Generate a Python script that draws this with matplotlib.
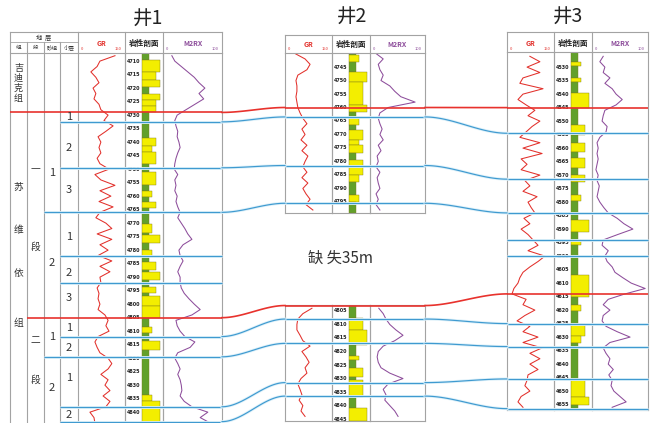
import numpy as np
import matplotlib.pyplot as plt

plt.rcParams['font.family'] = ['Noto Sans CJK SC', 'DejaVu Sans']

# ---------------- 井1 ----------------
dep1 = np.arange(4708, 4845, 2)
gr1 = [118, 70, 61, 41, 57, 67, 48, 57, 51, 67,
       73, 96, 83, 112, 89, 64, 73, 67, 73, 61,
       70, 99, 54, 73, 118, 70, 105, 67, 112, 70,
       57, 89, 108, 61, 108, 70, 96, 64, 108, 70,
       102, 70, 73, 61, 67, 64, 70, 64, 86, 96,
       89, 99, 64, 54, 61, 70, 96, 108, 96, 73,
       96, 86, 102, 80, 102, 89, 38, 51, 54]
rx1 = [15, 20, 31, 42, 53, 61, 71, 61, 69, 54,
       39, 24, 20, 22, 25, 24, 27, 29, 25, 22,
       20, 19, 25, 20, 22, 20, 24, 22, 25, 29,
       25, 31, 37, 42, 49, 34, 27, 29, 34, 29,
       25, 29, 29, 31, 36, 44, 53, 63, 49, 22,
       24, 29, 37, 54, 46, 25, 20, 25, 29, 25,
       29, 31, 32, 29, 36, 49, 76, 63, 80]
# 岩性: 0 泥岩, 1-3 砂岩(粒级由细到粗)
lith1_top = [4707, 4709.5, 4714, 4717, 4719.5, 4722, 4724.5, 4726.5, 4729, 4738.5,
             4741.5, 4743.5, 4748, 4751, 4756, 4758, 4760.5, 4762, 4764.5, 4770.5,
             4773.5, 4774.5, 4777.5, 4780, 4782, 4784.5, 4787.5, 4788, 4791, 4793.5,
             4796, 4797, 4800.5, 4805, 4808.5, 4810.5, 4813.5, 4817, 4833.5, 4836]
lith1_code = [0, 3, 2, 3, 0, 3, 2, 2, 0, 2,
              1, 2, 0, 2, 0, 1, 0, 2, 0, 1,
              0, 3, 0, 1, 0, 2, 0, 3, 0, 2,
              0, 3, 3, 0, 1, 0, 3, 0, 1, 3]
ticks1 = list(range(4710, 4845, 5))

# ---------------- 井2 ----------------
dep2a = np.arange(4740, 4799, 2)
gr2a = [32, 64, 80, 70, 41, 35, 38, 38, 35, 38,
        41, 48, 57, 70, 54, 64, 51, 70, 54, 73,
        64, 57, 70, 54, 73, 57, 67, 80, 67, 89]
rx2a = [11, 24, 15, 18, 24, 20, 36, 45, 56, 82,
        33, 18, 15, 18, 22, 18, 24, 15, 20, 13,
        15, 11, 18, 13, 15, 18, 11, 15, 11, 18]
lith2a_top = [4739.8, 4740.5, 4743, 4747, 4750.5, 4759, 4761.5, 4764, 4766.5, 4768.5,
              4772, 4774, 4777, 4779.5, 4785, 4787.5, 4792.5, 4795]
lith2a_code = [0, 1, 0, 3, 2, 3, 0, 1, 0, 2, 1, 2, 0, 2, 1, 0, 1, 0]
ticks2a = list(range(4745, 4799, 5))

dep2b = np.arange(4804, 4845, 2)
gr2b = [86, 57, 41, 38, 38, 48, 57, 80, 54, 67,
        77, 64, 70, 51, 41, 48, 54, 45, 57, 51, 64]
rx2b = [16, 24, 29, 36, 47, 60, 45, 24, 15, 13,
        15, 20, 36, 60, 33, 24, 29, 27, 36, 45, 51]
lith2b_top = [4802.8, 4807.5, 4812, 4817.5, 4821.5, 4823, 4826, 4829.5, 4830.5, 4837, 4841]
lith2b_code = [0, 2, 3, 0, 1, 0, 2, 0, 2, 0, 3]
ticks2b = list(range(4805, 4846, 5))

# ---------------- 井3 ----------------
dep3 = np.arange(4526, 4657, 2)
gr3 = [73, 105, 64, 105, 51, 41, 115, 51, 35, 61,
       89, 67, 105, 80, 61, 41, 105, 51, 112, 45,
       64, 45, 105, 57, 73, 51, 96, 67, 77, 89,
       54, 73, 45, 67, 83, 99, 67, 121, 99, 73,
       51, 41, 35, 22, 16, 61, 51, 89, 57, 32,
       73, 51, 99, 51, 112, 73, 105, 73, 99, 67,
       64, 57, 73, 45, 35, 51]
rx3 = [20, 14, 23, 20, 32, 23, 36, 43, 54, 43,
       23, 20, 18, 27, 25, 14, 9, 11, 9, 11,
       9, 7, 11, 9, 13, 11, 9, 14, 21, 29,
       45, 57, 73, 46, 20, 18, 29, 23, 27, 36,
       41, 55, 70, 95, 59, 29, 20, 32, 20, 18,
       25, 45, 68, 32, 20, 25, 32, 29, 38, 30,
       36, 34, 39, 50, 61, 36]
lith3_top = [4524.4, 4528, 4529.5, 4534, 4535.5, 4539.5, 4545, 4551.5, 4555, 4558,
             4561.5, 4563.5, 4567.5, 4570, 4572.5, 4577.5, 4579.5, 4586.5, 4591, 4594,
             4596, 4607, 4615, 4618, 4620.5, 4625, 4629.5, 4632, 4646, 4652, 4655]
lith3_code = [0, 1, 0, 1, 0, 3, 0, 2, 0, 2,
              0, 2, 0, 2, 0, 1, 0, 3, 0, 1,
              0, 3, 0, 1, 0, 2, 1, 0, 2, 3, 0]
ticks3 = list(range(4530, 4656, 5))

# 分层界线 (三口井同序, None 表示缺失)
bound_kind = ['fm', 'ly', 'ly', 'sg', 'ly', 'ly', 'mb', 'ly', 'sg', 'ly', 'ly']
bound1 = [4729, 4732.5, 4749.5, 4766, 4782, 4792, 4805, 4812, 4819.5, 4838, 4843.5]
bound2 = [4760, 4763.5, 4781.5, 4795.5, None, None, 4803, 4808, 4817, 4831.5, 4836.5]
bound3 = [4545, 4554.5, 4571.5, 4584, 4594, 4600, 4614, 4625, 4633.5, 4645.5, 4656.5]

# ---------------- 画布 ----------------
W, H = 653, 423
fig = plt.figure(figsize=(W / 100, H / 100), dpi=100)
fig.patch.set_facecolor('white')

GRID = '#a3a3a3'
GR_C = '#e2302b'
RX_C = '#8d4d9b'
SAND = '#f3ee00'
MUD = '#62a02b'
RED = '#e8322d'
BLUE = '#3f9ad0'
HALO = '#dcf0f9'
LITH_W = [0.17, 0.27, 0.37, 0.48]


def rect(x0, y0, x1, y1):
    return [x0 / W, 1 - y1 / H, (x1 - x0) / W, (y1 - y0) / H]


ov = fig.add_axes([0, 0, 1, 1], zorder=5)
ov.set_xlim(0, W)
ov.set_ylim(H, 0)
ov.axis('off')
ov.patch.set_visible(False)


def section(xs, y0, y1, d0, d1, dep, gr, rx, tops, codes, base, ticks):
    axs = []
    for a, b in zip(xs[:-1], xs[1:]):
        ax = fig.add_axes(rect(a, y0, b, y1), zorder=1)
        ax.set_ylim(d1, d0)
        ax.set_xticks([])
        ax.set_yticks([])
        ax.patch.set_visible(False)
        for s in ax.spines.values():
            s.set_color(GRID)
            s.set_linewidth(0.8)
        axs.append(ax)
    ax_gr, ax_li, ax_rx = axs
    ax_gr.plot(gr, dep, color=GR_C, lw=0.75)
    ax_gr.set_xlim(0, 150)
    ax_rx.plot(rx, dep, color=RX_C, lw=0.75)
    ax_rx.set_xlim(0, 100)
    bases = list(tops[1:]) + [base]
    h = np.array(bases) - np.array(tops)
    ax_li.barh(tops, [LITH_W[c] for c in codes], height=h, left=0.45, align='edge',
               color=[SAND if c else MUD for c in codes], edgecolor='#7d7a1c', lw=0.3)
    ax_li.set_xlim(0, 1)
    for t in ticks:
        ax_li.text(0.05, t, str(t), fontsize=3.5, fontweight='bold', va='center',
                   color='#222222', family='DejaVu Sans')
    return axs


def header(xs, y0, y1):
    ov.plot([xs[0], xs[-1]], [y0, y0], color=GRID, lw=0.8)
    for x in xs:
        ov.plot([x, x], [y0, y1], color=GRID, lw=0.8)
    ym = y0 + (y1 - y0) * 0.55
    ov.text((xs[0] + xs[1]) / 2, ym, 'GR', color=GR_C, fontsize=5, fontweight='bold',
            ha='center', va='center')
    ov.text(xs[0] + 3, y1 - 1.5, '0', color=GR_C, fontsize=3, ha='left', va='bottom')
    ov.text(xs[1] - 3, y1 - 1.5, '150', color=GR_C, fontsize=3, ha='right', va='bottom')
    ov.text((xs[1] + xs[2]) / 2, ym, '岩性剖面', color='#222222', fontsize=5.5,
            fontweight='bold', ha='center', va='center')
    ov.text((xs[2] + xs[3]) / 2, ym, 'M2RX', color=RX_C, fontsize=5, fontweight='bold',
            ha='center', va='center')
    ov.text(xs[2] + 3, y1 - 1.5, '0', color=RX_C, fontsize=3, ha='left', va='bottom')
    ov.text(xs[3] - 3, y1 - 1.5, '100', color=RX_C, fontsize=3, ha='right', va='bottom')


xs1 = [78, 125, 163, 222]
xs2 = [285, 332, 370, 425]
xs3 = [507, 554, 592, 648]

w1 = section(xs1, 53, 430, 4707.0, 4846.6, dep1, gr1, rx1,
             lith1_top, lith1_code, 4846.6, ticks1)
w2a = section(xs2, 53, 213, 4739.8, 4799.1, dep2a, gr2a, rx2a,
              lith2a_top, lith2a_code, 4799.1, ticks2a)
w2b = section(xs2, 305, 421, 4802.8, 4845.7, dep2b, gr2b, rx2b,
              lith2b_top, lith2b_code, 4845.7, ticks2b)
w3 = section(xs3, 52, 410, 4524.4, 4657.0, dep3, gr3, rx3,
             lith3_top, lith3_code, 4657.0, ticks3)

header(xs1, 32, 53)
header(xs2, 35, 53)
header(xs3, 32, 52)

# 井1 地层表格
strat_x = [10, 27, 44, 60, 78]
ov.plot([10, 78], [32, 32], color=GRID, lw=0.8)
ov.plot([10, 10], [32, H], color=GRID, lw=0.8)
ov.plot([10, 78], [42, 42], color=GRID, lw=0.6)
ov.plot([10, 78], [53, 53], color=GRID, lw=0.8)
for x in strat_x[1:4]:
    ov.plot([x, x], [42, H], color=GRID, lw=0.8)
ov.text(44, 37.5, '地  层', fontsize=4.5, ha='center', va='center', color='#333333')
for x0, x1, s in zip(strat_x[:-1], strat_x[1:], ['组', '段', '砂组', '小层']):
    ov.text((x0 + x1) / 2, 47.5, s, fontsize=4, ha='center', va='center', color='#333333')

for ch, y in zip('吉迪克组', [68, 78, 88, 98]):
    ov.text(18.5, y, ch, fontsize=6.5, ha='center', va='center', color='#333333')
for ch, y in zip('苏维依组', [187, 230, 273, 323]):
    ov.text(18.5, y, ch, fontsize=7, ha='center', va='center', color='#333333')
for ch, y in zip(['一', '段', '二', '段'], [168, 247, 340, 380]):
    ov.text(35.5, y, ch, fontsize=7, ha='center', va='center', color='#333333')
for ch, y in zip('1212', [173, 263, 337, 388]):
    ov.text(52, y, ch, fontsize=8, ha='center', va='center', color='#333333')
for ch, y in zip('1231231212', [117, 148, 190, 237, 273, 298, 328, 348, 378, 415]):
    ov.text(69, y, ch, fontsize=8, ha='center', va='center', color='#333333')

# 井名
for name, x, y in [('井1', 148, 19), ('井2', 352, 17), ('井3', 568, 17)]:
    ov.text(x, y, name, fontsize=14, ha='center', va='center', color='#222222')

ov.text(340, 258, '缺 失35m', fontsize=11, ha='center', va='center', color='#333333')


# ---------------- 分层对比线 ----------------
def ypx(ax, d):
    return H - ax.transData.transform((0.5, d))[1]


def hline(x0, x1, y, color, lw):
    if color == BLUE:
        ov.plot([x0, x1], [y, y], color=HALO, lw=lw + 1.2, solid_capstyle='butt')
    ov.plot([x0, x1], [y, y], color=color, lw=lw, solid_capstyle='butt')


def link(xa, ya, xb, yb, color, lw):
    t = np.linspace(0, 1, 40)
    s = t * t * (3 - 2 * t)
    xx = xa + (xb - xa) * t
    yy = ya + (yb - ya) * s
    if color == BLUE:
        ov.plot(xx, yy, color=HALO, lw=lw + 1.2)
    ov.plot(xx, yy, color=color, lw=lw)


start1 = {'fm': 10, 'mb': 27, 'sg': 44, 'ly': 60}
order = sorted(range(len(bound_kind)), key=lambda i: bound_kind[i] in ('fm', 'mb'))
for i in order:
    kind = bound_kind[i]
    color = RED if kind in ('fm', 'mb') else BLUE
    lw = 1.2 if color == RED else 0.85
    y1 = ypx(w1[0], bound1[i])
    hline(start1[kind], xs1[-1], y1, color, lw)
    y3 = ypx(w3[0], bound3[i])
    hline(xs3[0], xs3[-1], y3, color, lw)
    d2 = bound2[i]
    if d2 is None:
        continue
    ax2 = w2a[0] if d2 < 4799.1 else w2b[0]
    y2 = ypx(ax2, d2)
    hline(xs2[0], xs2[-1], y2, color, lw)
    link(xs1[-1], y1, xs2[0], y2, color, lw)
    link(xs2[-1], y2, xs3[0], y3, color, lw)

fig.savefig('out.png', dpi=100, facecolor='white')
